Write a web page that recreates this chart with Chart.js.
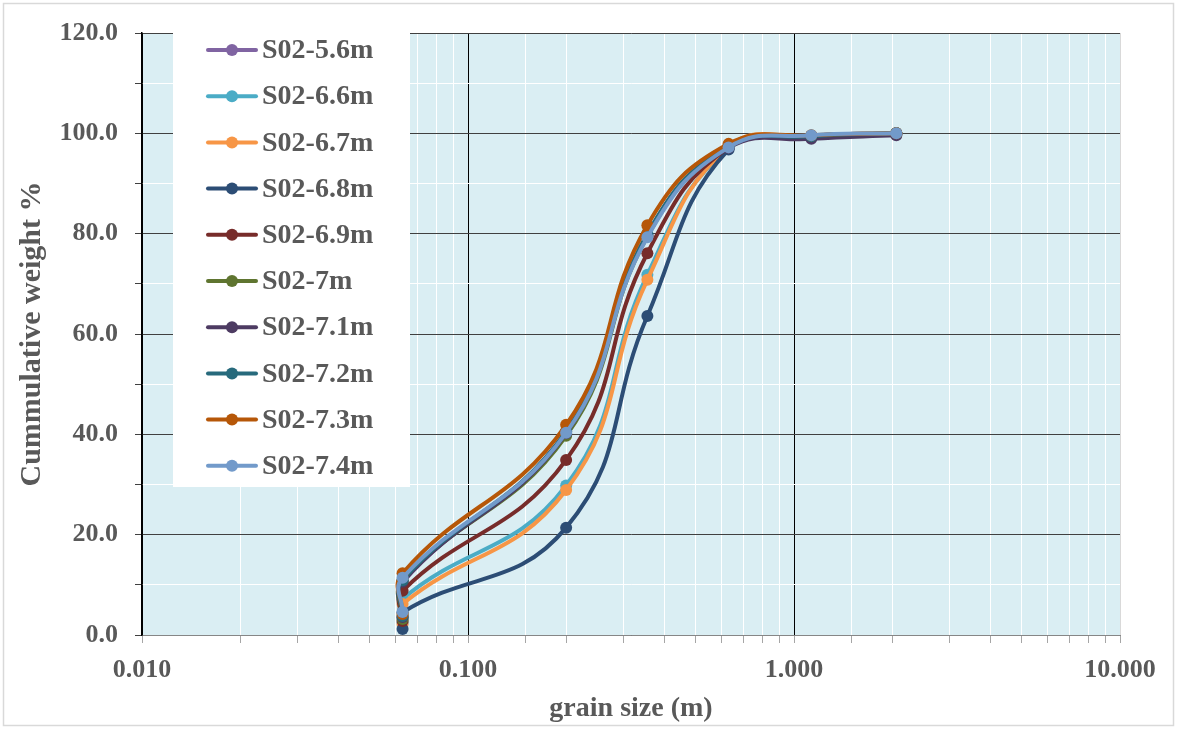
<!DOCTYPE html>
<html>
<head>
<meta charset="utf-8">
<script src="https://cdn.jsdelivr.net/npm/chart.js@4.4.1/dist/chart.umd.min.js"></script>
<style>
  html, body { margin: 0; padding: 0; background: #fff; }
</style>
</head>
<body>
<canvas id="graph" width="1177" height="729"></canvas>
<script>
// sieve sizes; the pan fraction is plotted at 0.063 as well
const grainSizes = [0.063, 0.063, 0.2, 0.355, 0.63, 1.13, 2.06];

const sampleLabels = ['S02-5.6m', 'S02-6.6m', 'S02-6.7m', 'S02-6.8m', 'S02-6.9m',
                      'S02-7m', 'S02-7.1m', 'S02-7.2m', 'S02-7.3m', 'S02-7.4m'];

const s02_5_6 = [3.5, 10.5, 40.5, 79.8, 97.4, 99.5, 100.0];
const s02_6_6 = [2.5, 7.2, 29.8, 71.8, 97.0, 99.4, 100.0];
const s02_6_7 = [2.2, 6.2, 28.9, 70.8, 97.3, 99.5, 100.0];
const s02_6_8 = [1.2, 4.5, 21.4, 63.6, 96.8, 99.3, 99.9];
const s02_6_9 = [2.8, 8.8, 34.9, 76.1, 97.2, 99.3, 100.0];
const s02_7_0 = [3.2, 10.8, 39.7, 79.5, 97.5, 99.5, 100.0];
const s02_7_1 = [3.6, 10.6, 40.2, 79.6, 97.1, 98.9, 99.6];
const s02_7_2 = [3.8, 10.9, 40.6, 80.0, 97.4, 99.4, 100.0];
const s02_7_3 = [4.2, 12.3, 41.9, 81.7, 97.9, 99.6, 100.0];
const s02_7_4 = [4.6, 11.4, 40.3, 79.3, 97.2, 99.6, 100.0];

const yTicks = [0, 20, 40, 60, 80, 100, 120];

const seriesValues = [s02_5_6, s02_6_6, s02_6_7, s02_6_8, s02_6_9,
                      s02_7_0, s02_7_1, s02_7_2, s02_7_3, s02_7_4];

const colors = ['#8064A2', '#4BACC6', '#F79646', '#2C4D75', '#772C2A',
                '#5F7530', '#4D3B62', '#276A7C', '#B65708', '#729ACA'];

const isDecade = v => Math.abs(Math.log10(v) - Math.round(Math.log10(v))) < 1e-6;

Chart.defaults.font.family = "'Liberation Serif', 'Times New Roman', serif";
Chart.defaults.font.weight = 'bold';
Chart.defaults.color = '#595959';

const backdrop = {
    id: 'backdrop',
    beforeDraw(chart) {
        const c = chart.ctx, a = chart.chartArea;
        c.save();
        c.fillStyle = '#fff';
        c.fillRect(0, 0, chart.width, chart.height);
        c.strokeStyle = '#d9d9d9';
        c.lineWidth = 1.5;
        c.strokeRect(3.5, 3.5, chart.width - 7, chart.height - 7);
        c.fillStyle = '#DAEEF3';
        c.fillRect(a.left, a.top, a.right - a.left, a.bottom - a.top);
        c.restore();
    }
};

// legend box sits inside the plot area, top-left
const boxLegend = {
    id: 'boxLegend',
    afterDatasetsDraw(chart) {
        const c = chart.ctx;
        c.save();
        c.fillStyle = '#fff';
        c.fillRect(173, 33, 237, 454);
        chart.data.datasets.forEach((ds, i) => {
            const y = 50 + i * 46.2;
            c.strokeStyle = ds.borderColor;
            c.lineWidth = 4;
            c.lineCap = 'round';
            c.beginPath();
            c.moveTo(208, y);
            c.lineTo(256, y);
            c.stroke();
            c.fillStyle = ds.borderColor;
            c.beginPath();
            c.arc(232, y, 6, 0, Math.PI * 2);
            c.fill();
            c.fillStyle = '#595959';
            c.font = "bold 28px 'Liberation Serif', serif";
            c.textBaseline = 'middle';
            c.fillText(ds.label, 262, y + 1);
        });
        c.restore();
    }
};

new Chart(document.getElementById('graph').getContext('2d'), {
    type: 'line',
    data: {
        datasets: seriesValues.map((vals, i) => ({
            label: sampleLabels[i],
            data: vals.map((v, j) => ({ x: grainSizes[j], y: v })),
            borderColor: colors[i],
            backgroundColor: colors[i],
            pointBackgroundColor: colors[i],
            pointBorderColor: colors[i],
            borderWidth: 4,
            pointRadius: 6,
            pointBorderWidth: 0,
            tension: 0.45,
            fill: false,
            order: seriesValues.length - i
        }))
    },
    options: {
        responsive: false,
        animation: false,
        layout: { padding: { top: 33, right: 57, left: 0, bottom: 0 } },
        scales: {
            x: {
                type: 'logarithmic',
                min: 0.01,
                max: 10,
                afterFit: s => { s.height = 94; },
                border: { color: '#868686', width: 1 },
                grid: {
                    color: ctx => {
                        const v = ctx.tick.value;
                        if (!isDecade(v)) return '#ffffff';
                        return v > 5 ? '#d9d9d9' : '#000000';
                    },
                    tickColor: '#a6a6a6',
                    tickLength: 8,
                    drawTicks: true
                },
                ticks: {
                    autoSkip: false,
                    maxRotation: 0,
                    padding: 12,
                    font: { size: 26, weight: 'bold' },
                    callback: v => isDecade(v) ? Number(v).toFixed(3) : ''
                },
                title: {
                    display: true,
                    text: 'grain size (m)',
                    font: { size: 28, weight: 'bold' },
                    padding: { top: 4, bottom: 3 }
                }
            },
            y: {
                min: 0,
                max: 120,
                afterFit: s => { s.width = 142; },
                border: { color: '#000000', width: 1.5 },
                grid: {
                    color: ctx => (ctx.tick.value % 20 === 0) ? '#404040' : '#ffffff',
                    tickColor: '#404040',
                    tickLength: 7
                },
                ticks: {
                    stepSize: 10,
                    padding: 17,
                    font: { size: 26, weight: 'bold' },
                    callback: v => yTicks.includes(v) ? v.toFixed(1) : ''
                },
                title: {
                    display: true,
                    text: 'Cummulative weight %',
                    font: { size: 30, weight: 'bold' },
                    padding: { top: 14, bottom: 4 }
                }
            }
        },
        plugins: {
            legend: { display: false },
            tooltip: { enabled: false }
        }
    },
    plugins: [backdrop, boxLegend]
});
</script>
</body>
</html>
